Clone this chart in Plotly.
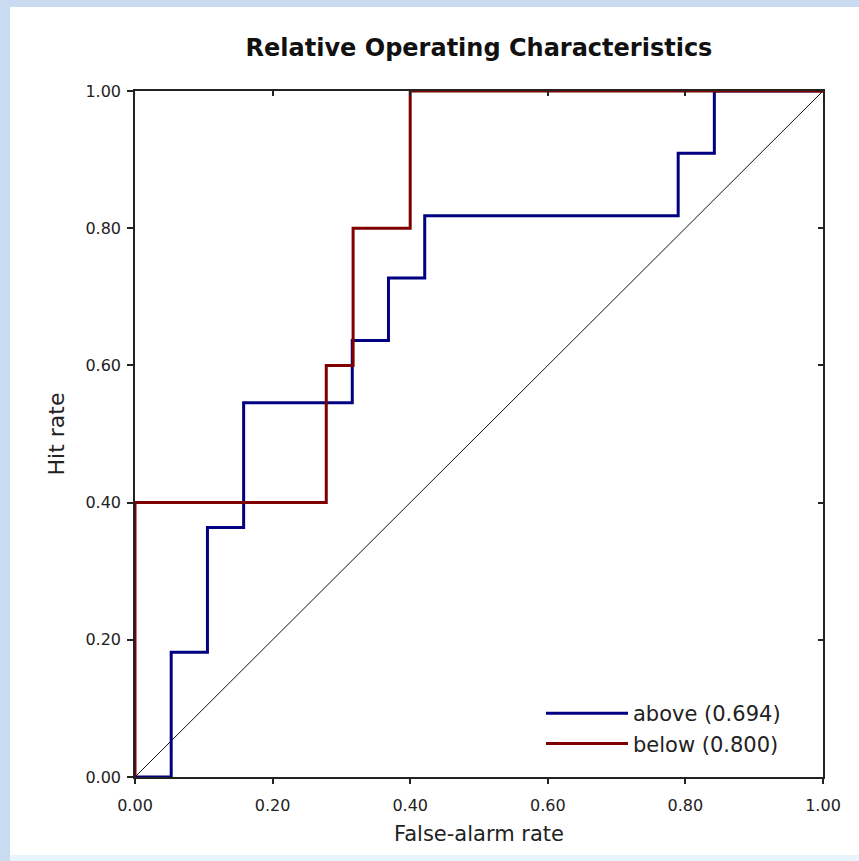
import plotly.graph_objects as go

# ---- data ----
above_far = [0.0, 0.0526, 0.1053, 0.1579, 0.3158, 0.3684, 0.4211, 0.7895, 0.8421, 1.0]
above_hit = [0.0, 0.1818, 0.3636, 0.5455, 0.6364, 0.7273, 0.8182, 0.9091, 1.0, 1.0]
below_far = [0.0, 0.0, 0.278, 0.317, 0.40, 1.0]
below_hit = [0.0, 0.40, 0.60, 0.80, 1.0, 1.0]
diag_x = [0.0, 1.0]
diag_y = [0.0, 1.0]
series_names = ["above (0.694)", "below (0.800)"]
tick_vals = [0.0, 0.2, 0.4, 0.6, 0.8, 1.0]
tick_text = ["0.00", "0.20", "0.40", "0.60", "0.80", "1.00"]

W, H = 859, 861
ML, MR, MT, MB = 135, 36, 91, 84
PW = W - ML - MR
PH = H - MT - MB

def px_x(p):
    return (p - ML) / PW

def px_y(p):
    return (H - MB - p) / PH

FONT = "DejaVu Sans"
AX = "#222222"

fig = go.Figure()
fig.add_trace(go.Scatter(x=diag_x, y=diag_y, mode="lines",
                         line=dict(color="#111111", width=1),
                         showlegend=False, hoverinfo="skip"))
fig.add_trace(go.Scatter(x=above_far, y=above_hit, mode="lines", name=series_names[0],
                         line=dict(color="#000080", width=3, shape="hv")))
fig.add_trace(go.Scatter(x=below_far, y=below_hit, mode="lines", name=series_names[1],
                         line=dict(color="#800000", width=3, shape="hv")))
# invisible trace to activate the mirrored (inside-tick) axes
fig.add_trace(go.Scatter(x=diag_x, y=diag_y, mode="lines", xaxis="x2", yaxis="y2",
                         line=dict(width=0), opacity=0, showlegend=False, hoverinfo="skip"))

axis_common = dict(range=[0, 1], tickvals=tick_vals, showgrid=False, zeroline=False)

fig.update_layout(
    width=W, height=H,
    margin=dict(l=ML, r=MR, t=MT, b=MB, autoexpand=False),
    paper_bgcolor="#c9dbf1",
    plot_bgcolor="white",
    font=dict(family=FONT, color="#111111"),
    title=dict(text="<b>Relative Operating Characteristics</b>",
               font=dict(family=FONT, size=24, color="#111111"),
               x=0.5, xref="paper", xanchor="center",
               y=1 - 48 / H, yref="container", yanchor="middle"),
    xaxis=dict(**axis_common, ticktext=tick_text, ticks="outside", ticklen=5, tickwidth=1.5,
               tickcolor=AX, showline=True, linecolor=AX, linewidth=1.5,
               mirror=True, tickfont=dict(family=FONT, size=16, color=AX),
               ticklabelstandoff=8,
               title=dict(text="False-alarm rate", font=dict(family=FONT, size=21, color=AX),
                          standoff=12),
               automargin=False),
    yaxis=dict(**axis_common, ticktext=tick_text, ticks="outside", ticklen=6, tickwidth=1.5,
               tickcolor=AX, showline=True, linecolor=AX, linewidth=1.5,
               mirror=True, tickfont=dict(family=FONT, size=16, color=AX),
               ticklabelstandoff=3,
               title=dict(text="Hit rate", font=dict(family=FONT, size=22, color=AX),
                          standoff=15),
               automargin=False),
    xaxis2=dict(**axis_common, overlaying="x", side="top", anchor="y2", ticks="inside",
                ticklen=5, tickwidth=1.5, tickcolor=AX, showticklabels=False,
                showline=False),
    yaxis2=dict(**axis_common, overlaying="y", side="right", anchor="x2", ticks="inside",
                ticklen=5, tickwidth=1.5, tickcolor=AX, showticklabels=False,
                showline=False),
    legend=dict(x=px_x(541), y=px_y(693), xanchor="left", yanchor="top",
                bgcolor="rgba(0,0,0,0)", borderwidth=0, itemwidth=82,
                font=dict(family=FONT, size=21, color=AX)),
    shapes=[
        dict(type="rect", xref="paper", yref="paper", layer="below",
             x0=px_x(10), x1=px_x(W + 5), y0=px_y(855), y1=px_y(7),
             fillcolor="white", line=dict(width=0)),
        dict(type="rect", xref="paper", yref="paper", layer="below",
             x0=px_x(10), x1=px_x(W + 5), y0=px_y(H + 5), y1=px_y(855),
             fillcolor="#eaf5fb", line=dict(width=0)),
    ],
)

fig.write_html("out.html", config={"displayModeBar": False},
               post_script="document.body.style.margin='0';document.body.style.overflow='hidden';")
